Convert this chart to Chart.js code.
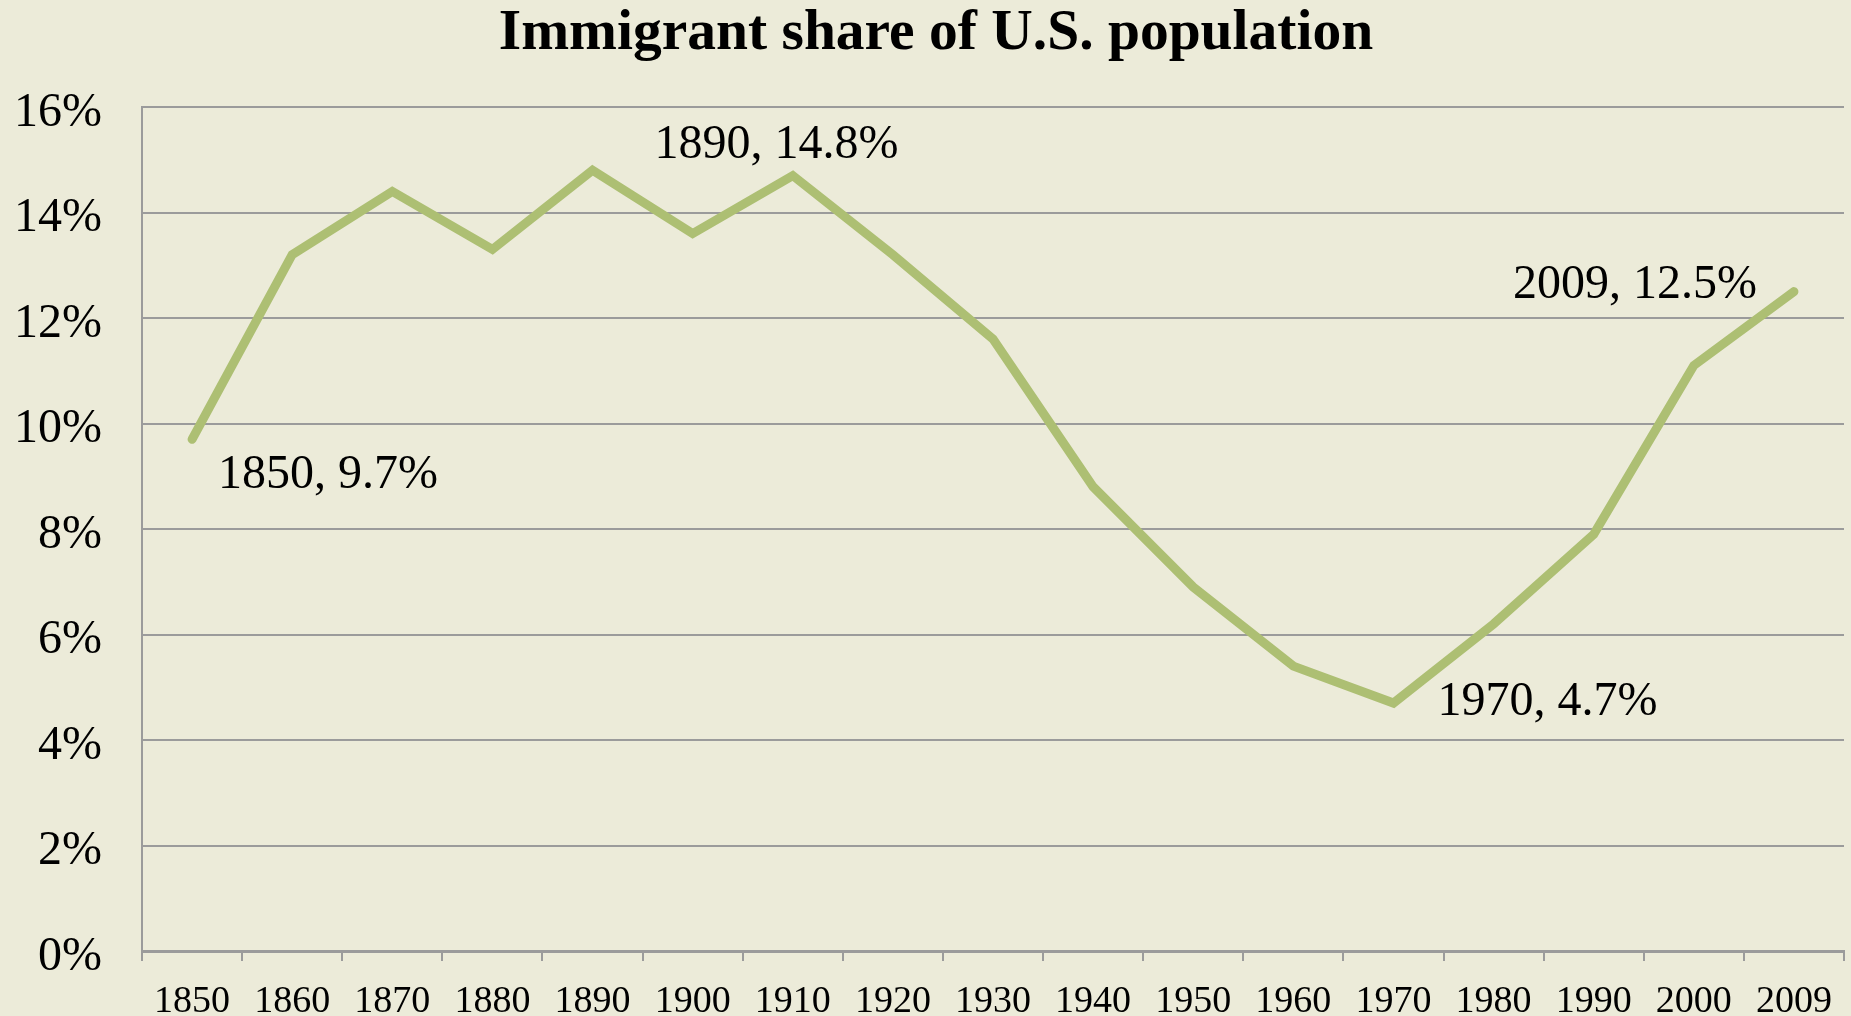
<!DOCTYPE html>
<html>
<head>
<meta charset="utf-8">
<script src="https://cdn.jsdelivr.net/npm/chart.js@4/dist/chart.umd.min.js"></script>
<style>
    html, body { margin: 0; padding: 0; background: #ECEBD9; }
    #wrap { width: 1851px; height: 1016px; }
</style>
</head>
<body>
<div id="wrap"><canvas id="chart-imigrantes"></canvas></div>
<script>
const anos = ['1850', '1860', '1870', '1880', '1890', '1900', '1910', '1920', '1930', '1940', '1950', '1960', '1970', '1980', '1990', '2000', '2009'];
const parcelaImigrantes = [9.7, 13.2, 14.4, 13.3, 14.8, 13.6, 14.7, 13.2, 11.6, 8.8, 6.9, 5.4, 4.7, 6.2, 7.9, 11.1, 12.5];
const marcacoesTexto = ['1850, 9.7%', '1890, 14.8%', '1970, 4.7%', '2009, 12.5%'];
const marcacoesIndice = [0, 4, 12, 16];
const titulo = 'Immigrant share of U.S. population';

// deslocamento de cada rotulo em relacao ao ponto que ele descreve
const marcacoesDesloc = [
    { dx: 26, dy: 36, align: 'left' },
    { dx: 62, dy: -25, align: 'left' },
    { dx: 44, dy: -1, align: 'left' },
    { dx: -37, dy: -6, align: 'right' }
];

const corLinha = '#ADBF73';
const corGrade = '#9B9B9B';
const fonte = 'Liberation Serif';

// titulo desenhado a mao: o do Chart.js fica centrado no canvas e o original esta um pouco a direita
const tituloPlugin = {
    id: 'titulo',
    afterDraw(chart) {
        const { ctx } = chart;
        ctx.save();
        ctx.font = `bold 57.5px "${fonte}"`;
        ctx.fillStyle = '#000000';
        ctx.textAlign = 'center';
        ctx.textBaseline = 'middle';
        ctx.fillText(titulo, 936, 34);
        ctx.restore();
    }
};

const rotulosPlugin = {
    id: 'rotulos',
    afterDatasetsDraw(chart) {
        const { ctx, scales } = chart;
        ctx.save();
        ctx.font = `48px "${fonte}"`;
        ctx.fillStyle = '#000000';
        ctx.textBaseline = 'middle';
        marcacoesTexto.forEach((texto, i) => {
            const idx = marcacoesIndice[i];
            const d = marcacoesDesloc[i];
            const x = scales.x.getPixelForValue(idx) + d.dx;
            const y = scales.y.getPixelForValue(parcelaImigrantes[idx]) + d.dy;
            ctx.textAlign = d.align;
            ctx.fillText(texto, x, y);
        });
        ctx.restore();
    }
};

const fundoPlugin = {
    id: 'fundo',
    beforeDraw(chart) {
        const { ctx, width, height } = chart;
        ctx.save();
        ctx.fillStyle = '#ECEBD9';
        ctx.fillRect(0, 0, width, height);
        ctx.restore();
    }
};

new Chart(document.getElementById('chart-imigrantes'), {
    type: 'line',
    data: {
        labels: anos,
        datasets: [{
            label: 'Immigrant share',
            data: parcelaImigrantes,
            borderColor: corLinha,
            borderWidth: 9,
            borderCapStyle: 'round',
            borderJoinStyle: 'miter',
            pointRadius: 0,
            tension: 0,
            fill: false
        }]
    },
    options: {
        responsive: true,
        maintainAspectRatio: false,
        animation: false,
        layout: {
            padding: { left: 0, right: 7, top: 107, bottom: 0 }
        },
        plugins: {
            legend: { display: false },
            tooltip: { enabled: false },
            title: { display: false }
        },
        scales: {
            x: {
                offset: true,
                grid: {
                    offset: true,
                    drawOnChartArea: false,
                    drawTicks: true,
                    tickLength: 10,
                    color: corGrade,
                    lineWidth: 2
                },
                border: { display: true, color: corGrade, width: 3 },
                ticks: {
                    color: '#000000',
                    padding: 18,
                    maxRotation: 0,
                    autoSkip: false,
                    font: { family: fonte, size: 38 }
                },
                afterFit(scale) {
                    scale.height = 65;
                    scale.paddingLeft = 0;
                    scale.paddingRight = 0;
                }
            },
            y: {
                min: 0,
                max: 16,
                grid: {
                    drawTicks: false,
                    color: corGrade,
                    lineWidth: 2
                },
                border: { display: true, color: corGrade, width: 2 },
                ticks: {
                    stepSize: 2,
                    padding: 40,
                    labelOffset: 6,
                    color: '#000000',
                    font: { family: fonte, size: 48 },
                    callback(value) {
                        return `${value}%`;
                    }
                },
                afterFit(scale) {
                    scale.width = 142;
                    scale.paddingTop = 0;
                    scale.paddingBottom = 0;
                }
            }
        }
    },
    plugins: [fundoPlugin, rotulosPlugin, tituloPlugin]
});
</script>
</body>
</html>
